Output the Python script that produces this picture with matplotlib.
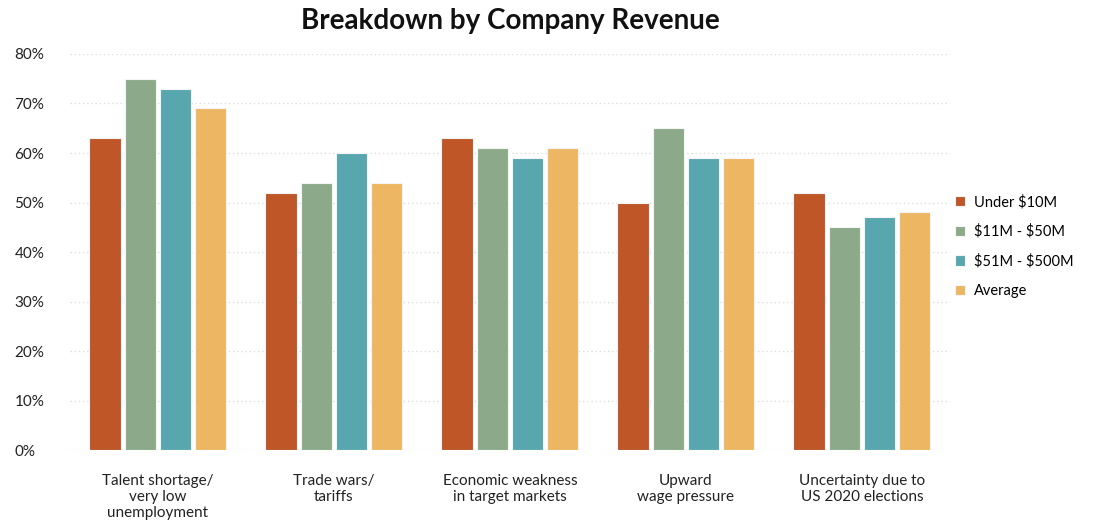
import numpy as np
import matplotlib.pyplot as plt
from matplotlib.ticker import PercentFormatter

categories = ['Talent shortage/\nvery low\nunemployment', 'Trade wars/\ntariffs',
              'Economic weakness\nin target markets', 'Upward\nwage pressure',
              'Uncertainty due to\nUS 2020 elections']
series_names = ['Under \\$10M', '\\$11M - \\$50M', '\\$51M - \\$500M', 'Average']
under_10m = [63, 52, 63, 50, 52]
m11_50 = [75, 54, 61, 65, 45]
m51_500 = [73, 60, 59, 59, 47]
average = [69, 54, 61, 59, 48]
colors = ['#BE5628', '#8CAA8A', '#58A7AE', '#EDB662']

plt.rcParams['font.family'] = ['Lato', 'DejaVu Sans']

fig = plt.figure(figsize=(10.93, 5.24), dpi=100)
ax = fig.add_axes([0.064, 0.141, 0.805, 0.756])

x = np.arange(len(categories))
pitch = 0.2
width = 0.178
for i, (name, vals) in enumerate(zip(series_names, [under_10m, m11_50, m51_500, average])):
    offs = (i - 1.5) * pitch
    ax.bar(x + offs, np.array(vals) / 100, width, color=colors[i], label=name,
           edgecolor='#f4f4f4', linewidth=0.8, zorder=3)

ax.set_xlim(-0.5, 4.5)
ax.set_ylim(0, 0.8)
ax.yaxis.set_major_formatter(PercentFormatter(1.0, decimals=0))
ax.set_yticks(np.arange(0, 0.81, 0.1))
ax.grid(axis='y', linestyle=(0, (1, 2)), color='#dddddd', linewidth=1, zorder=0)
ax.set_axisbelow(True)
for s in ax.spines.values():
    s.set_visible(False)
ax.tick_params(axis='both', length=0, labelsize=11, colors='#222222')
ax.tick_params(axis='x', pad=17)
ax.tick_params(axis='y', pad=40)
ax.set_xticks(x)
ax.set_xticklabels(categories, linespacing=1.2)
for lab in ax.get_yticklabels():
    lab.set_horizontalalignment('left')

fig.suptitle('Breakdown by Company Revenue', x=0.467, y=0.985, fontsize=20,
             fontweight='bold', color='#111111')

ax.legend(loc='center left', bbox_to_anchor=(0.862, 0.53), bbox_transform=fig.transFigure,
          frameon=False, fontsize=10.5, handlelength=0.7, handleheight=0.7,
          labelspacing=1.05, handletextpad=0.6)

fig.savefig('out.png', dpi=100)
